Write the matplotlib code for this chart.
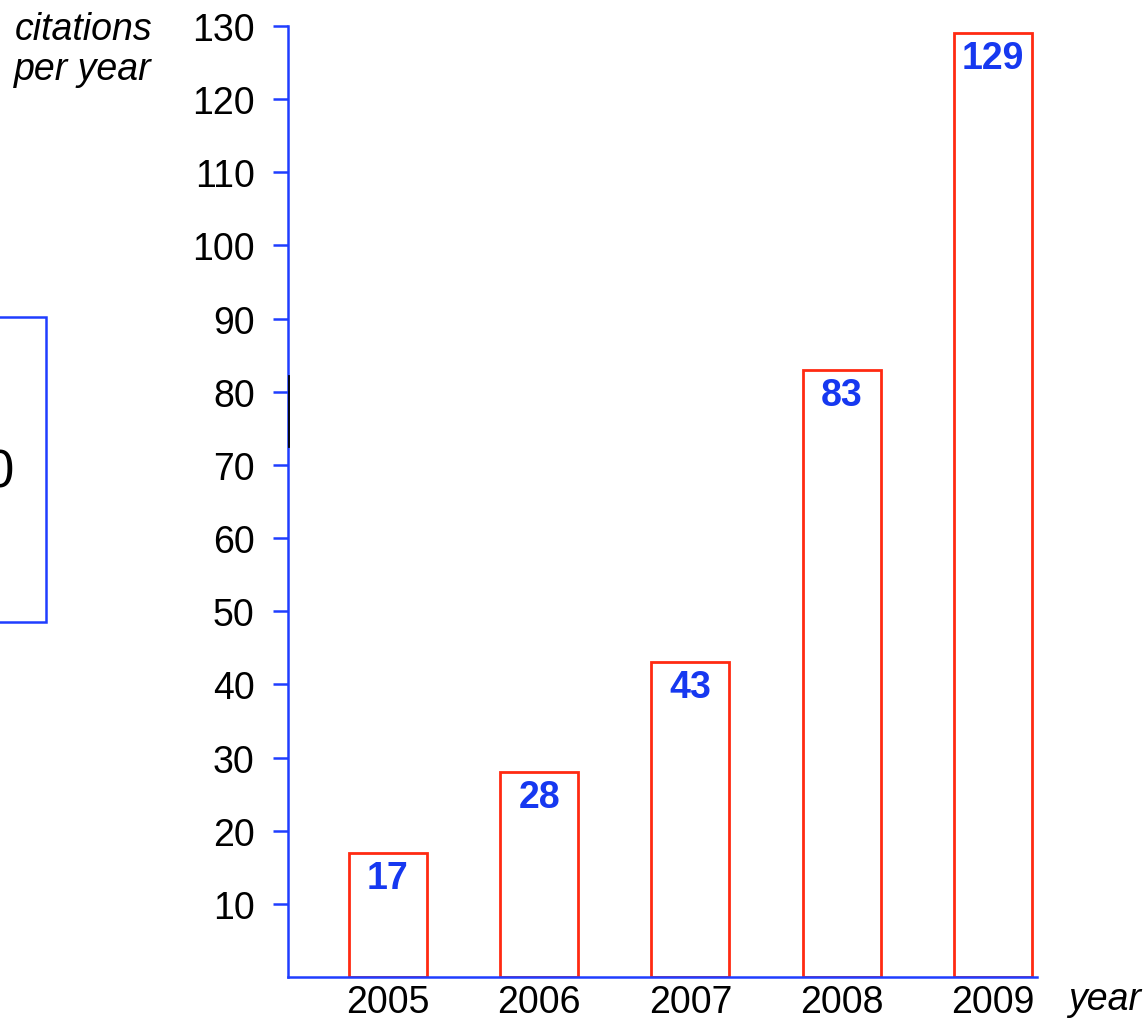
import matplotlib
matplotlib.use("Agg")
import matplotlib.pyplot as plt
from matplotlib.patches import Rectangle
from matplotlib.lines import Line2D

plt.rcParams['font.family'] = ['Liberation Sans', 'DejaVu Sans']

# Citations per year
years = ["2005", "2006", "2007", "2008", "2009"]
citations = [17, 28, 43, 83, 129]
y_ticks = [10, 20, 30, 40, 50, 60, 70, 80, 90, 100, 110, 120, 130]

AXIS_BLUE = "#1f3dff"
LABEL_BLUE = "#1638f0"
BAR_RED = "#ff2a12"
FS = 27

W, H = 1146, 1020
fig = plt.figure(figsize=(W / 100, H / 100), dpi=100)
ax = fig.add_axes([288 / W, 1 - 978 / H, (1037 - 288) / W, (978 - 27) / H])

x = list(range(len(years)))
bars = ax.bar(x, citations, width=0.516, facecolor="white",
              edgecolor=BAR_RED, linewidth=2)

for xi, v in zip(x, citations):
    ax.annotate(str(v), (xi, v), xytext=(0, -18), textcoords="offset points",
                ha="center", va="center", fontsize=FS, fontweight="bold",
                color=LABEL_BLUE)

ax.set_xlim(-0.661, 4.292)
ax.set_ylim(0, 130)
ax.set_yticks(y_ticks)
ax.set_yticklabels([str(t) for t in y_ticks])
ax.set_xticks(x)
ax.set_xticklabels(years)

for side in ("top", "right"):
    ax.spines[side].set_visible(False)
for side in ("left", "bottom"):
    ax.spines[side].set_color(AXIS_BLUE)
    ax.spines[side].set_linewidth(1.8)

ax.tick_params(axis="y", direction="out", length=11, width=1.8,
               color=AXIS_BLUE, labelsize=FS, pad=13, labelcolor="black")
ax.tick_params(axis="x", length=0, labelsize=FS, pad=5, labelcolor="black")

# axis captions
fig.text(152 / W, 1 - 30 / H, "citations", ha="right", va="center",
         fontsize=FS, style="italic")
fig.text(152 / W, 1 - 70 / H, "per year", ha="right", va="center",
         fontsize=FS, style="italic")
fig.text(1068 / W, 1 - 1000 / H, "year", ha="left", va="center",
         fontsize=FS, style="italic")

# partially visible panel at the left edge
fig.add_artist(Rectangle((-10 / W, 1 - 623 / H), 56 / W, 305 / H,
                         transform=fig.transFigure, fill=False,
                         edgecolor=AXIS_BLUE, linewidth=1.8))
fig.text(14 / W, 1 - 473 / H, "0", ha="right", va="center", fontsize=38)

# short dark stroke along the axis
fig.add_artist(Line2D([289.5 / W, 289.5 / W], [1 - 377 / H, 1 - 448 / H],
                      transform=fig.transFigure, color="black", linewidth=1.3))

fig.savefig("out.png", dpi=100)
